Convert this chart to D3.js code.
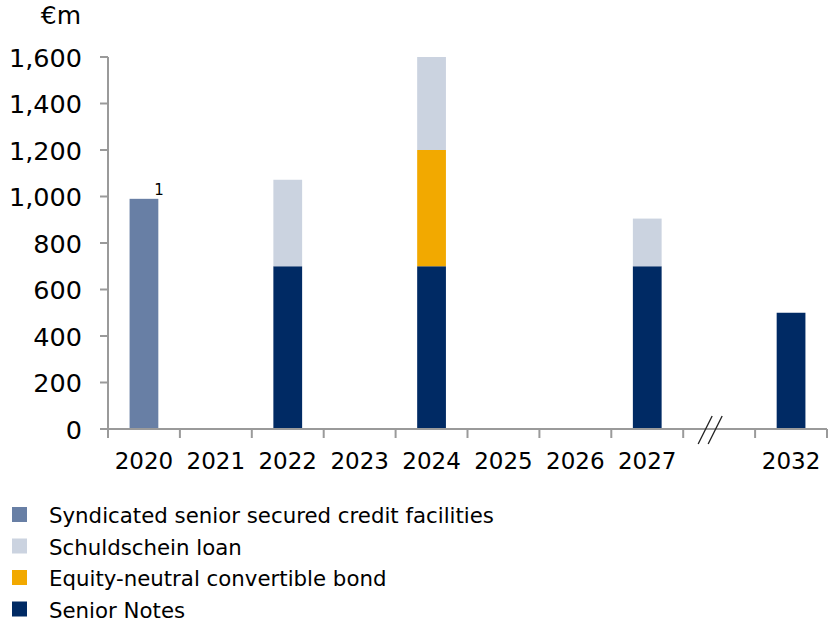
<!DOCTYPE html>
<html>
<head>
<meta charset="utf-8">
<script src="https://cdn.jsdelivr.net/npm/d3@7"></script>
<style>
  body { margin: 0; background: #fff; }
  text { font-family: "DejaVu Sans", Verdana, sans-serif; fill: #000; }
</style>
</head>
<body>
<div id="container"></div>
<script>
/* CONSTANTS AND GLOBALS */
const width = 831,
  height = 621,
  margin = { top: 57, bottom: 192, left: 108, right: 4 };

/* DATA */
const years = ["2020", "2021", "2022", "2023", "2024", "2025", "2026", "2027", "", "2032"];
const syndicated = [990, 0, 0, 0, 0, 0, 0, 0, 0, 0];
const seniorNotes = [0, 0, 700, 0, 700, 0, 0, 700, 0, 500];
const convertible = [0, 0, 0, 0, 500, 0, 0, 0, 0, 0];
const schuldschein = [0, 0, 372, 0, 400, 0, 0, 205, 0, 0];
const yTicks = [0, 200, 400, 600, 800, 1000, 1200, 1400, 1600];
const seriesNames = ["Syndicated senior secured credit facilities", "Schuldschein loan", "Equity-neutral convertible bond", "Senior Notes"];
const colors = ["#687fa5", "#cbd3e0", "#f2a900", "#002a64"];

// stacking order from bottom: syndicated, senior notes, convertible, schuldschein
const keys = ["syndicated", "senior", "convertible", "schuldschein"];
const keyColor = { syndicated: colors[0], senior: colors[3], convertible: colors[2], schuldschein: colors[1] };
const rows = years.map((y, i) => ({
  year: y,
  syndicated: syndicated[i],
  senior: seniorNotes[i],
  convertible: convertible[i],
  schuldschein: schuldschein[i]
}));
const stacked = d3.stack().keys(keys)(rows);

// SCALES
const xScale = d3.scaleBand()
  .domain(years)
  .range([margin.left, width - margin.right])
  .paddingInner(0.6)
  .paddingOuter(0.3);

const yScale = d3.scaleLinear()
  .domain([0, 1600])
  .range([height - margin.bottom, margin.top]);

// CREATE SVG ELEMENT
const svg = d3.select("#container")
  .append("svg")
  .attr("width", width)
  .attr("height", height);

// BARS
svg.selectAll(".layer")
  .data(stacked)
  .join("g")
  .attr("class", "layer")
  .attr("fill", d => keyColor[d.key])
  .selectAll("rect")
  .data(d => d.filter(s => s[1] - s[0] > 0))
  .join("rect")
  .attr("x", d => xScale(d.data.year))
  .attr("width", xScale.bandwidth())
  .attr("y", d => yScale(d[1]))
  .attr("height", d => yScale(d[0]) - yScale(d[1]));

// AXES
const axisColor = "#9a9a9a";
const y0 = yScale(0);
const step = xScale.step();
const x0 = margin.left;

// y axis
svg.append("line")
  .attr("x1", x0).attr("x2", x0)
  .attr("y1", yScale(1600)).attr("y2", y0)
  .attr("stroke", axisColor).attr("stroke-width", 2);
svg.selectAll(".ytick")
  .data(yTicks)
  .join("line")
  .attr("class", "ytick")
  .attr("x1", x0 - 8).attr("x2", x0)
  .attr("y1", d => yScale(d)).attr("y2", d => yScale(d))
  .attr("stroke", axisColor).attr("stroke-width", 2);
svg.selectAll(".ylabel")
  .data(yTicks)
  .join("text")
  .attr("class", "ylabel")
  .attr("x", 82)
  .attr("y", d => yScale(d) + 9.5)
  .attr("text-anchor", "end")
  .attr("font-size", 25.5)
  .text(d => d3.format(",")(d));

svg.append("text")
  .attr("x", 81).attr("y", 24)
  .attr("text-anchor", "end")
  .attr("font-size", 25)
  .text("€m");

// x axis
svg.append("line")
  .attr("x1", x0 - 8).attr("x2", width - margin.right)
  .attr("y1", y0).attr("y2", y0)
  .attr("stroke", axisColor).attr("stroke-width", 2);
svg.selectAll(".xtick")
  .data(d3.range(years.length + 1))
  .join("line")
  .attr("class", "xtick")
  .attr("x1", i => x0 + i * step).attr("x2", i => x0 + i * step)
  .attr("y1", y0).attr("y2", y0 + 9)
  .attr("stroke", axisColor).attr("stroke-width", 2);
svg.selectAll(".xlabel")
  .data(years)
  .join("text")
  .attr("class", "xlabel")
  .attr("x", d => xScale(d) + xScale.bandwidth() / 2)
  .attr("y", 469)
  .attr("text-anchor", "middle")
  .attr("font-size", 23)
  .text(d => d);

// axis break marks
const bx = xScale("") + xScale.bandwidth() / 2 - 9;
[-5, 5].forEach(off => {
  svg.append("line")
    .attr("x1", bx + off - 7).attr("y1", y0 + 15)
    .attr("x2", bx + off + 7).attr("y2", y0 - 13)
    .attr("stroke", "#222").attr("stroke-width", 1.3);
});

// footnote
svg.append("text")
  .attr("x", xScale("2020") + xScale.bandwidth() - 4)
  .attr("y", yScale(990) - 4)
  .attr("font-size", 15)
  .text("1");

// LEGEND
const legend = svg.selectAll(".legend")
  .data(seriesNames)
  .join("g")
  .attr("class", "legend")
  .attr("transform", (d, i) => `translate(12, ${507 + i * 31.5})`);
legend.append("rect")
  .attr("width", 15).attr("height", 15)
  .attr("fill", (d, i) => colors[i]);
legend.append("text")
  .attr("x", 37).attr("y", 16)
  .attr("font-size", 21.3)
  .text(d => d);
</script>
</body>
</html>
